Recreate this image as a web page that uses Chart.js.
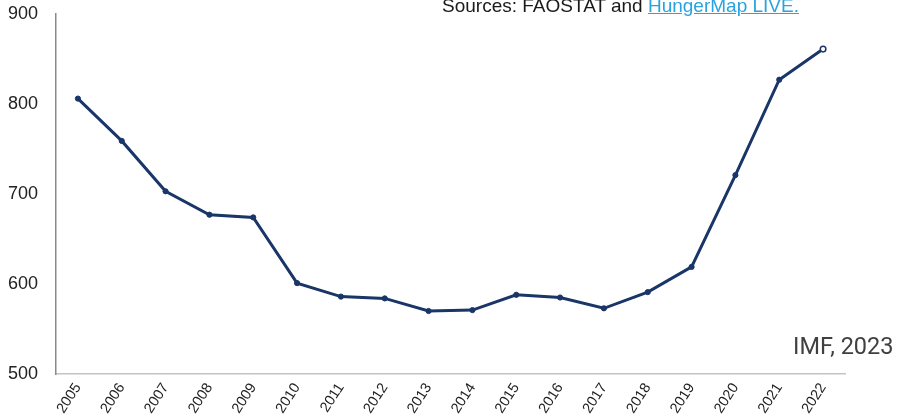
<!DOCTYPE html>
<html>
<head>
<meta charset="utf-8">
<script src="https://cdn.jsdelivr.net/npm/chart.js@4.4.0/dist/chart.umd.min.js"></script>
<style>
    html, body { margin: 0; padding: 0; background: #fff; }
    #wrap { position: relative; width: 902px; height: 417px; overflow: hidden; }
    #sources {
        position: absolute; left: 442px; top: -5px;
        font: 19px "Liberation Sans", Arial, sans-serif; color: #1a1a1a;
        white-space: nowrap;
    }
    #sources a { color: #29a3df; text-decoration: underline; }
    #credit {
        position: absolute; left: 793px; top: 332px;
        font: 23.5px Roboto, sans-serif; color: #404040;
        white-space: nowrap;
    }
</style>
</head>
<body>
<div id="wrap">
    <canvas id="hungerChart" width="902" height="417"></canvas>
    <div id="sources">Sources: FAOSTAT and <a href="#">HungerMap LIVE.</a></div>
    <div id="credit">IMF, 2023</div>
</div>
<script>
// Years and values (millions) for the series
const years = ['2005', '2006', '2007', '2008', '2009', '2010', '2011', '2012', '2013',
    '2014', '2015', '2016', '2017', '2018', '2019', '2020', '2021', '2022'];
const values = [806, 759, 703, 677, 674, 601, 586, 584, 570,
    571, 588, 585, 573, 591, 619, 721, 827, 861];
const yTicks = [500, 600, 700, 800, 900];

const navy = '#1a3567';
const lastIdx = values.length - 1;

const ctx = document.getElementById('hungerChart').getContext('2d');
new Chart(ctx, {
    type: 'line',
    data: {
        labels: years,
        datasets: [{
            data: values,
            borderColor: navy,
            borderWidth: 3,
            tension: 0,
            pointRadius: values.map((v, i) => i === lastIdx ? 2.8 : 2.6),
            pointBorderWidth: values.map((v, i) => i === lastIdx ? 1.5 : 1),
            pointBackgroundColor: values.map((v, i) => i === lastIdx ? '#fff' : navy),
            pointBorderColor: navy
        }]
    },
    options: {
        responsive: false,
        animation: false,
        layout: { padding: { top: 14, right: 57, left: 0, bottom: 0 } },
        plugins: {
            legend: { display: false },
            tooltip: { enabled: false }
        },
        scales: {
            x: {
                offset: true,
                grid: { display: false, drawTicks: false },
                border: { color: '#c4c4c4', width: 1.5 },
                ticks: {
                    color: '#222',
                    font: { family: '"Liberation Sans", Arial, sans-serif', size: 14.5 },
                    minRotation: 57,
                    maxRotation: 57,
                    padding: 6
                },
                afterFit: (scale) => { scale.height = 43; }
            },
            y: {
                min: 500,
                max: 900,
                afterBuildTicks: (scale) => { scale.ticks = yTicks.map(v => ({ value: v })); },
                grid: { display: false, drawTicks: false },
                border: { color: '#8a8a8a', width: 1.5 },
                ticks: {
                    color: '#222',
                    font: { family: '"Liberation Sans", Arial, sans-serif', size: 18 },
                    padding: 18
                },
                // fixed gutter; tick padding should not push the plot down
                afterFit: (scale) => {
                    scale.width = 56;
                    scale.paddingTop = 0;
                    scale.paddingBottom = 0;
                }
            }
        }
    }
});
</script>
</body>
</html>
